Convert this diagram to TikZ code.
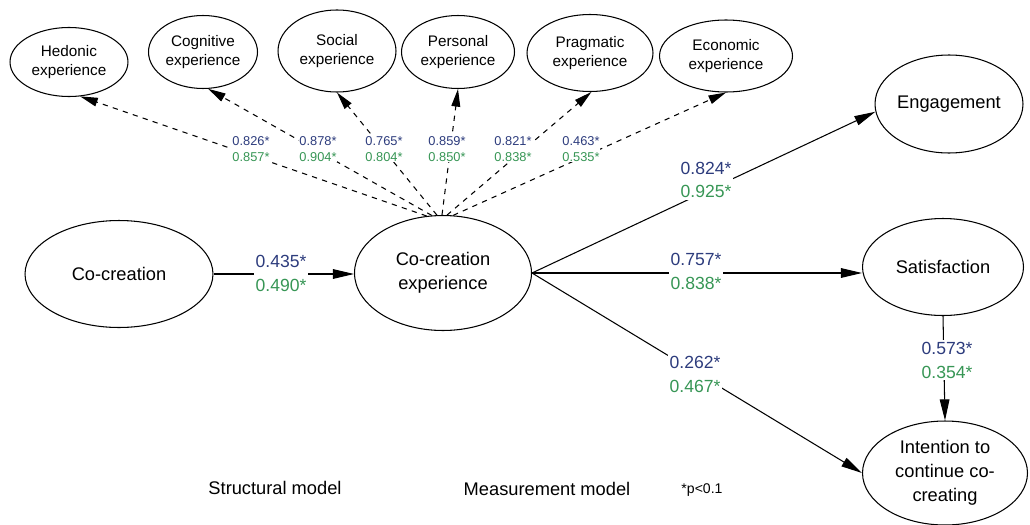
\documentclass[tikz,border=0pt]{standalone}
\usepackage{fontspec}
\setmainfont{Liberation Sans}
\usetikzlibrary{shapes.geometric,arrows.meta}
\definecolor{numblue}{RGB}{45,60,125}
\definecolor{numgreen}{RGB}{55,150,85}
\begin{document}
\begin{tikzpicture}[x=0.02cm,y=-0.02cm,
  lat/.style={ellipse,draw,line width=0.6pt,inner sep=0pt,align=center},
  big/.style={lat,font=\fontsize{10.4}{13.8}\selectfont},
  small/.style={lat,font=\fontsize{8.7}{11.3}\selectfont},
  pathline/.style={line width=0.6pt,-{Triangle[length=12pt,width=5.5pt]}},
  meas/.style={line width=0.6pt,dash pattern=on 3pt off 3pt,-{Triangle[length=10pt,width=5pt]}},
  coef/.style={fill=white,inner sep=1pt,align=center,font=\fontsize{10}{13.6}\selectfont},
  coefs/.style={fill=white,inner sep=0.5pt,align=center,font=\fontsize{7.3}{9}\selectfont},
  note/.style={font=\fontsize{10.4}{12}\selectfont}
]
\useasboundingbox (0,0) rectangle (1030,524);

% measurement (top) latent variables
\node[small,minimum width=2.36cm,minimum height=1.38cm] (hed) at (69,62) {Hedonic\\experience};
\node[small,minimum width=2.18cm,minimum height=1.46cm] (cog) at (203,52) {Cognitive\\experience};
\node[small,minimum width=2.36cm,minimum height=1.64cm] (soc) at (337,51) {Social\\experience};
\node[small,minimum width=2.26cm,minimum height=1.46cm] (per) at (458,52) {Personal\\experience};
\node[small,minimum width=2.52cm,minimum height=1.54cm] (pra) at (590,53) {Pragmatic\\experience};
\node[small,minimum width=2.66cm,minimum height=1.44cm] (eco) at (726,56) {Economic\\experience};

% structural latent variables
\node[big,minimum width=2.96cm,minimum height=1.96cm] (eng) at (949,104) {Engagement};
\node[big,minimum width=3.76cm,minimum height=2.14cm] (co) at (119,274) {Co-creation};
\node[big,minimum width=3.54cm,minimum height=2.30cm] (cce) at (443,273) {Co-creation\\experience};
\node[big,minimum width=3.22cm,minimum height=1.94cm] (sat) at (943,267) {Satisfaction};
\node[big,minimum width=3.30cm,minimum height=2.08cm,font=\fontsize{10.4}{13.6}\selectfont] (int) at (945,473) {Intention to\\continue co-\\creating};

% measurement arrows
\draw[meas] (cce.106) -- (hed.-72);
\draw[meas] (cce.101) -- (cog.-82);
\draw[meas] (cce.96) -- (soc.south);
\draw[meas] (cce.91) -- (per.south);
\draw[meas] (cce.86) -- (pra.-88);
\draw[meas] (cce.80) -- (eco.-90);

% structural arrows
\draw[pathline] (co.east) -- (co.east -| cce.west);
\draw[pathline] (cce.east) -- (eng.186);
\draw[pathline] (cce.east) -- (cce.east -| sat.west);
\draw[pathline] (cce.east) -- (int.west);
\draw[pathline] (sat.south) -- (int.north);

% coefficients (top)
\node[coefs] (lh) at (251,149) {\color{numblue}0.826*\\\color{numgreen}0.857*};
\node[coefs] (lc) at (318,149) {\color{numblue}0.878*\\\color{numgreen}0.904*};
\node[coefs] (ls) at (384,149) {\color{numblue}0.765*\\\color{numgreen}0.804*};
\node[coefs] (lp) at (447,149) {\color{numblue}0.859*\\\color{numgreen}0.850*};
\node[coefs] (lg) at (513,149) {\color{numblue}0.821*\\\color{numgreen}0.838*};
\node[coefs] (le) at (581,149) {\color{numblue}0.463*\\\color{numgreen}0.535*};

% coefficients (structural)
\node[coef] (l1) at (281,273) {\color{numblue}0.435*\\\color{numgreen}0.490*};
\node[coef] (l2) at (706,180) {\color{numblue}0.824*\\\color{numgreen}0.925*};
\node[coef] (l3) at (696,271) {\color{numblue}0.757*\\\color{numgreen}0.838*};
\node[coef] (l4) at (695,374) {\color{numblue}0.262*\\\color{numgreen}0.467*};
\node[coef] (l5) at (947,360) {\color{numblue}0.573*\\\color{numgreen}0.354*};

% notes
\node[note] (sm) at (275,488) {Structural model};
\node[note] (mm) at (547,489) {Measurement model};
\node[font=\fontsize{8}{10}\selectfont] (pv) at (702,490) {*p<0.1};
\end{tikzpicture}
\end{document}
